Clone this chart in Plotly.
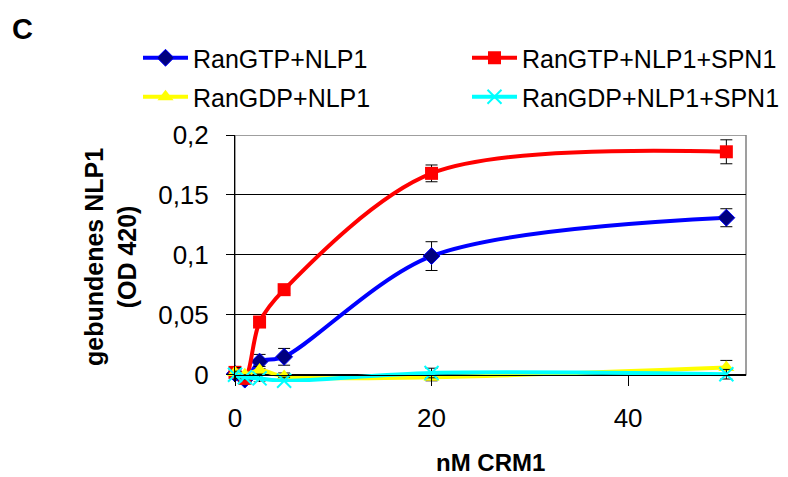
import plotly.graph_objects as go

# ---- data ----
x_nm = [0, 1, 2.5, 5, 20, 50]

series_names = ["RanGTP+NLP1", "RanGTP+NLP1+SPN1", "RanGDP+NLP1", "RanGDP+NLP1+SPN1"]
gtp_nlp1 = [0.001, -0.004, 0.011, 0.015, 0.099, 0.131]
gtp_nlp1_err = [0.004, 0.002, 0.006, 0.007, 0.012, 0.0075]
gtp_spn1 = [0.002, -0.003, 0.044, 0.071, 0.168, 0.186]
gtp_spn1_err = [0.005, 0.002, 0.003, 0.003, 0.007, 0.010]
gdp_nlp1 = [0.002, 0.0, 0.004, -0.0015, -0.002, 0.006]
gdp_nlp1_err = [0.004, 0.002, 0.003, 0.003, 0.003, 0.006]
gdp_spn1 = [0.0, -0.002, -0.003, -0.005, 0.0015, 0.0005]
gdp_spn1_err = [0.003, 0.002, 0.003, 0.003, 0.004, 0.004]

y_tickvals = [0, 0.05, 0.1, 0.15, 0.2]
y_ticktext = ["0", "0,05", "0,1", "0,15", "0,2"]
x_tickvals = [0, 20, 40]
x_ticktext = ["0", "20", "40"]

FONT = "Liberation Sans, Arial, sans-serif"

fig = go.Figure()

styles = [
    (gtp_nlp1, gtp_nlp1_err, "#0000FF", dict(symbol="diamond", size=13, color="#000080",
                                             line=dict(color="#0000FF", width=1)), "legend2"),
    (gtp_spn1, gtp_spn1_err, "#FF0000", dict(symbol="square", size=13, color="#FF0000"), "legend3"),
    (gdp_nlp1, gdp_nlp1_err, "#FFFF00", dict(symbol="triangle-up", size=14, color="#FFFF00"), "legend4"),
    (gdp_spn1, gdp_spn1_err, "#00FFFF", dict(symbol="x-thin", size=14,
                                             line=dict(color="#00FFFF", width=2)), "legend5"),
]

for name, (yv, ev, col, mk, lg) in zip(series_names, styles):
    fig.add_trace(go.Scatter(
        x=x_nm, y=yv, name=name, mode="lines+markers",
        line=dict(color=col, width=4, shape="spline", smoothing=0.9),
        marker=mk,
        error_y=dict(type="data", array=ev, visible=True, color="black", thickness=1, width=6),
        cliponaxis=False,
        legend=lg,
    ))

W, H = 788, 477
L, R, T, B = 235, 42, 135, 95
ymin = -0.006
plot_h = H - T - B
plot_w = W - L - R


def py(p):
    return (H - B - p) / plot_h


def px(p):
    return (p - L) / plot_w


leg_common = dict(orientation="h", bgcolor="rgba(0,0,0,0)", borderwidth=0,
                  font=dict(family=FONT, size=25, color="black"),
                  xanchor="left", yanchor="middle", itemwidth=45)

fig.update_layout(
    width=W, height=H,
    margin=dict(l=L, r=R, t=T, b=B, autoexpand=False),
    paper_bgcolor="white", plot_bgcolor="white",
    font=dict(family=FONT, color="black"),
    showlegend=True,
    legend2=dict(**leg_common, x=px(138), y=py(58)),
    legend3=dict(**leg_common, x=px(467), y=py(58)),
    legend4=dict(**leg_common, x=px(138), y=py(97)),
    legend5=dict(**leg_common, x=px(467), y=py(97)),
    xaxis=dict(range=[0, 52], tickvals=x_tickvals, ticktext=x_ticktext,
               showgrid=False, zeroline=False, showline=True, linecolor="black", linewidth=1,
               ticks="outside", ticklen=10, tickcolor="black", tickwidth=1,
               anchor="free", position=(0 - ymin) / (0.2 - ymin), automargin=False,
               tickfont=dict(family=FONT, size=26, color="black"), ticklabelstandoff=10),
    yaxis=dict(range=[ymin, 0.2], tickvals=y_tickvals, ticktext=y_ticktext,
               showgrid=True, gridcolor="black", gridwidth=1, zeroline=False,
               showline=True, linecolor="black", linewidth=1, automargin=False,
               ticks="outside", ticklen=8, tickcolor="black", tickwidth=1,
               tickfont=dict(family=FONT, size=26, color="black"), ticklabelstandoff=12),
    shapes=[dict(type="rect", xref="x domain", yref="y", x0=0, x1=1, y0=0, y1=0.2,
                 line=dict(color="#808080", width=1.5), layer="below")],
    annotations=[
        dict(text="<b>C</b>", xref="paper", yref="paper", x=px(10), y=py(29),
             xanchor="left", yanchor="middle", showarrow=False,
             font=dict(family=FONT, size=29, color="black")),
        dict(text="<b>gebundenes NLP1<br>(OD 420)</b>", xref="paper", yref="paper",
             x=px(110), y=py(257), xanchor="center", yanchor="middle", textangle=-90,
             showarrow=False, font=dict(family=FONT, size=25, color="black")),
        dict(text="<b>nM CRM1</b>", xref="paper", yref="paper", x=px(490), y=py(462),
             xanchor="center", yanchor="middle", showarrow=False,
             font=dict(family=FONT, size=24, color="black")),
    ],
)

fig.write_html("out.html", config={"displayModeBar": False},
               post_script="document.body.style.margin='0';document.body.style.padding='0';")
